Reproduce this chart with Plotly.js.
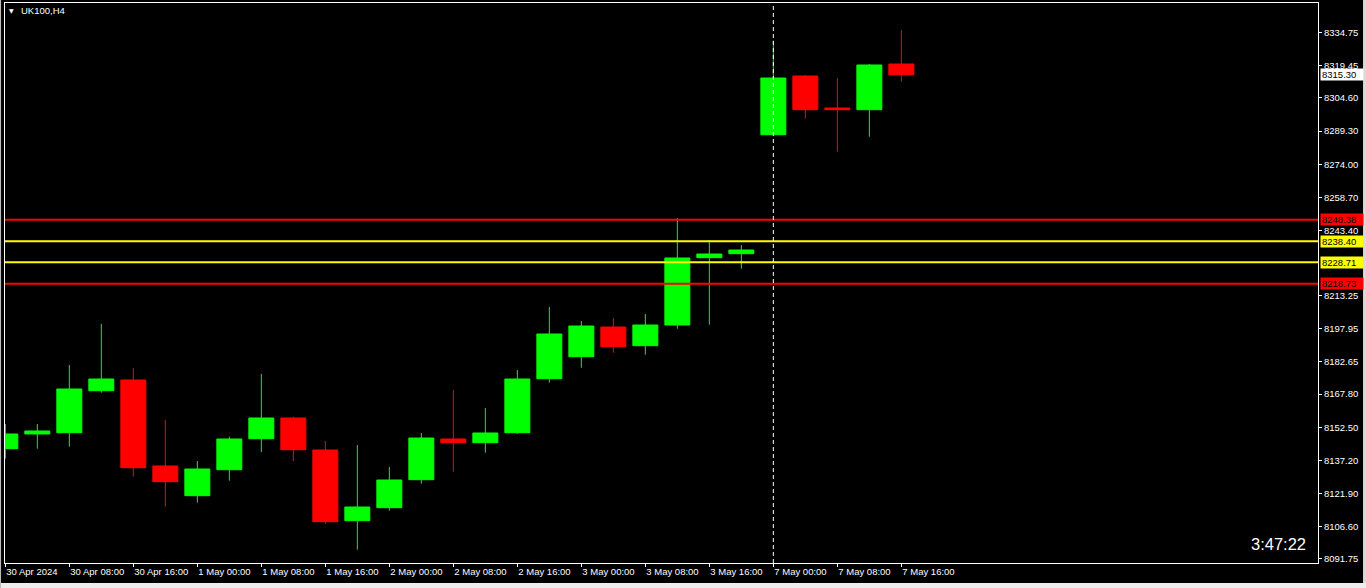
<!DOCTYPE html>
<html>
<head>
<meta charset="utf-8">
<script src="https://cdn.plot.ly/plotly-3.0.1.min.js"></script>
<style>
html,body{margin:0;padding:0;background:#000;overflow:hidden;}
#chart{width:1366px;height:588px;}
</style>
</head>
<body>
<div id="chart"></div>
<script>
// ---- Data (UK100, H4) ----
const candleTimes = [
  '30 Apr 00:00','30 Apr 04:00','30 Apr 08:00','30 Apr 12:00','30 Apr 16:00','30 Apr 20:00',
  '1 May 00:00','1 May 04:00','1 May 08:00','1 May 12:00','1 May 16:00','1 May 20:00',
  '2 May 00:00','2 May 04:00','2 May 08:00','2 May 12:00','2 May 16:00','2 May 20:00',
  '3 May 00:00','3 May 04:00','3 May 08:00','3 May 12:00','3 May 16:00','3 May 20:00',
  '7 May 00:00','7 May 04:00','7 May 08:00','7 May 12:00','7 May 16:00'
];
const openPrices  = [8142.57,8149.36,8149.96,8169.36,8174.31,8134.58,8120.85,8132.86,8147.19,8156.75,
                     8141.96,8109.30,8115.31,8128.25,8147.05,8145.34,8149.96,8174.90,8185.07,8198.79,
                     8190.15,8199.71,8230.80,8232.65,8287.63,8314.75,8299.96,8299.18,8320.29];
const highPrices  = [8153.98,8153.98,8181.24,8200.18,8179.85,8155.83,8136.88,8148.11,8177.08,8157.35,
                     8146.12,8144.28,8134.11,8149.82,8169.68,8161.37,8178.92,8208.03,8201.56,8202.95,
                     8204.79,8249.14,8238.98,8236.67,8331.05,8315.21,8313.82,8320.29,8336.00];
const lowPrices   = [8137.95,8142.57,8143.49,8168.44,8129.63,8115.77,8117.62,8127.78,8141.04,8136.88,
                     8107.92,8095.91,8113.92,8126.40,8131.94,8140.72,8149.50,8173.06,8179.99,8186.92,
                     8185.99,8198.00,8199.85,8225.72,8287.03,8295.02,8279.77,8286.70,8312.11];
const closePrices = [8149.36,8150.75,8170.15,8174.77,8133.79,8127.32,8133.19,8147.05,8156.75,8142.10,
                     8108.84,8115.63,8128.11,8147.51,8145.34,8149.82,8174.77,8195.56,8199.25,8189.69,
                     8199.71,8230.67,8232.51,8234.36,8313.82,8299.18,8299.18,8319.83,8315.30];

const xTickPositions = [0,2,4,6,8,10,12,14,16,18,20,22,24,26,28];
const xTickLabels = ['30 Apr 2024','30 Apr 08:00','30 Apr 16:00','1 May 00:00','1 May 08:00','1 May 16:00',
                     '2 May 00:00','2 May 08:00','2 May 16:00','3 May 00:00','3 May 08:00','3 May 16:00',
                     '7 May 00:00','7 May 08:00','7 May 16:00'];
const yTickValues = [8334.75,8319.45,8304.60,8289.30,8274.00,8258.70,8243.40,8213.25,8197.95,
                     8182.65,8167.80,8152.50,8137.20,8121.90,8106.60,8091.75];

const levelPrices = [8248.38, 8238.40, 8228.71, 8218.73];
const levelColors = ['#ff0000', '#ffff00', '#ffff00', '#ff0000'];
const currentPrice = 8315.30;
const separatorIndex = 24;
const symbolTitle = 'UK100,H4';
const countdownText = '3:47:22';

// ---- Chart ----
const FONT = 'Liberation Sans, Arial, sans-serif';
const xIdx = candleTimes.map((_, i) => i);

const trace = {
  type: 'candlestick',
  x: xIdx,
  open: openPrices, high: highPrices, low: lowPrices, close: closePrices,
  text: candleTimes,
  increasing: {line: {color: '#00ff00', width: 1}, fillcolor: '#00ff00'},
  decreasing: {line: {color: '#ff0000', width: 1}, fillcolor: '#ff0000'},
  whiskerwidth: 0,
  hoverinfo: 'text',
  showlegend: false
};

const shapes = [];
levelPrices.forEach((p, i) => {
  shapes.push({type: 'line', xref: 'paper', x0: 0, x1: 1, yref: 'y', y0: p, y1: p,
               line: {color: levelColors[i], width: 2}, layer: 'above'});
});
shapes.push({type: 'line', xref: 'x', x0: separatorIndex, x1: separatorIndex, yref: 'paper', y0: 0, y1: 1,
             line: {color: '#ffffff', width: 1, dash: '4px,3px'}, layer: 'above'});
// window frame bits
shapes.push({type: 'rect', xref: 'paper', yref: 'paper', x0: 1.0343, x1: 1.04, y0: -0.05, y1: 1.01,
             fillcolor: '#d9d9d9', line: {width: 0}, layer: 'above'});
shapes.push({type: 'rect', xref: 'paper', yref: 'paper', x0: -0.01, x1: 1.04, y0: -0.05, y1: -0.0357,
             fillcolor: '#eeeeee', line: {width: 0}, layer: 'above'});
shapes.push({type: 'rect', xref: 'paper', yref: 'paper', x0: -0.0038, x1: -0.0030, y0: -0.05, y1: 1.01,
             fillcolor: '#bbbbbb', line: {width: 0}, layer: 'above'});

const annotations = [];
const labelPrices = levelPrices.concat([currentPrice]);
const labelColors = levelColors.concat(['#ffffff']);
labelPrices.forEach((p, i) => {
  annotations.push({xref: 'paper', x: 1, xanchor: 'left', xshift: 2, yref: 'y', y: p, yanchor: 'middle',
    text: p.toFixed(2), showarrow: false, bgcolor: labelColors[i], borderpad: 1,
    width: 40, height: 9, align: 'left',
    font: {family: FONT, size: 9.5, color: '#000000'}});
});
annotations.push({xref: 'paper', x: 0, xanchor: 'left', xshift: 2, yref: 'paper', y: 1, yanchor: 'middle', yshift: -7.5,
  text: '▼', showarrow: false, font: {family: 'DejaVu Sans', size: 6, color: '#ffffff'}});
annotations.push({xref: 'paper', x: 0, xanchor: 'left', xshift: 14, yref: 'paper', y: 1, yanchor: 'middle', yshift: -7.5,
  text: symbolTitle, showarrow: false, font: {family: FONT, size: 9.5, color: '#ffffff'}});
annotations.push({xref: 'paper', x: 1, xanchor: 'right', xshift: -10, yref: 'paper', y: 0, yanchor: 'middle', yshift: 19,
  text: countdownText, showarrow: false, font: {family: FONT, size: 16.5, color: '#ffffff'}});

const layout = {
  width: 1366, height: 588,
  margin: {l: 5, r: 48, t: 3, b: 25, pad: 0},
  paper_bgcolor: '#000000', plot_bgcolor: '#000000',
  boxgap: 0.22,
  boxgroupgap: 0,
  showlegend: false,
  xaxis: {
    type: 'linear', range: [-0.01, 41.02], fixedrange: true,
    rangeslider: {visible: false},
    showgrid: false, zeroline: false,
    showline: true, mirror: true, linecolor: '#ffffff', linewidth: 1,
    ticks: 'outside', ticklen: 3, tickwidth: 1, tickcolor: '#ffffff',
    tickmode: 'array', tickvals: xTickPositions, ticktext: xTickLabels,
    ticklabelposition: 'outside right',
    tickfont: {family: FONT, size: 9.5, color: '#ffffff'}
  },
  yaxis: {
    side: 'right', range: [8089.76, 8348.47], fixedrange: true,
    showgrid: false, zeroline: false,
    showline: true, mirror: true, linecolor: '#ffffff', linewidth: 1,
    ticks: 'outside', ticklen: 3, tickwidth: 1, tickcolor: '#ffffff',
    tickmode: 'array', tickvals: yTickValues, ticktext: yTickValues.map(v => v.toFixed(2)),
    tickfont: {family: FONT, size: 9.5, color: '#ffffff'}
  },
  shapes: shapes,
  annotations: annotations
};

Plotly.newPlot('chart', [trace], layout, {displayModeBar: false, staticPlot: true});
</script>
</body>
</html>
